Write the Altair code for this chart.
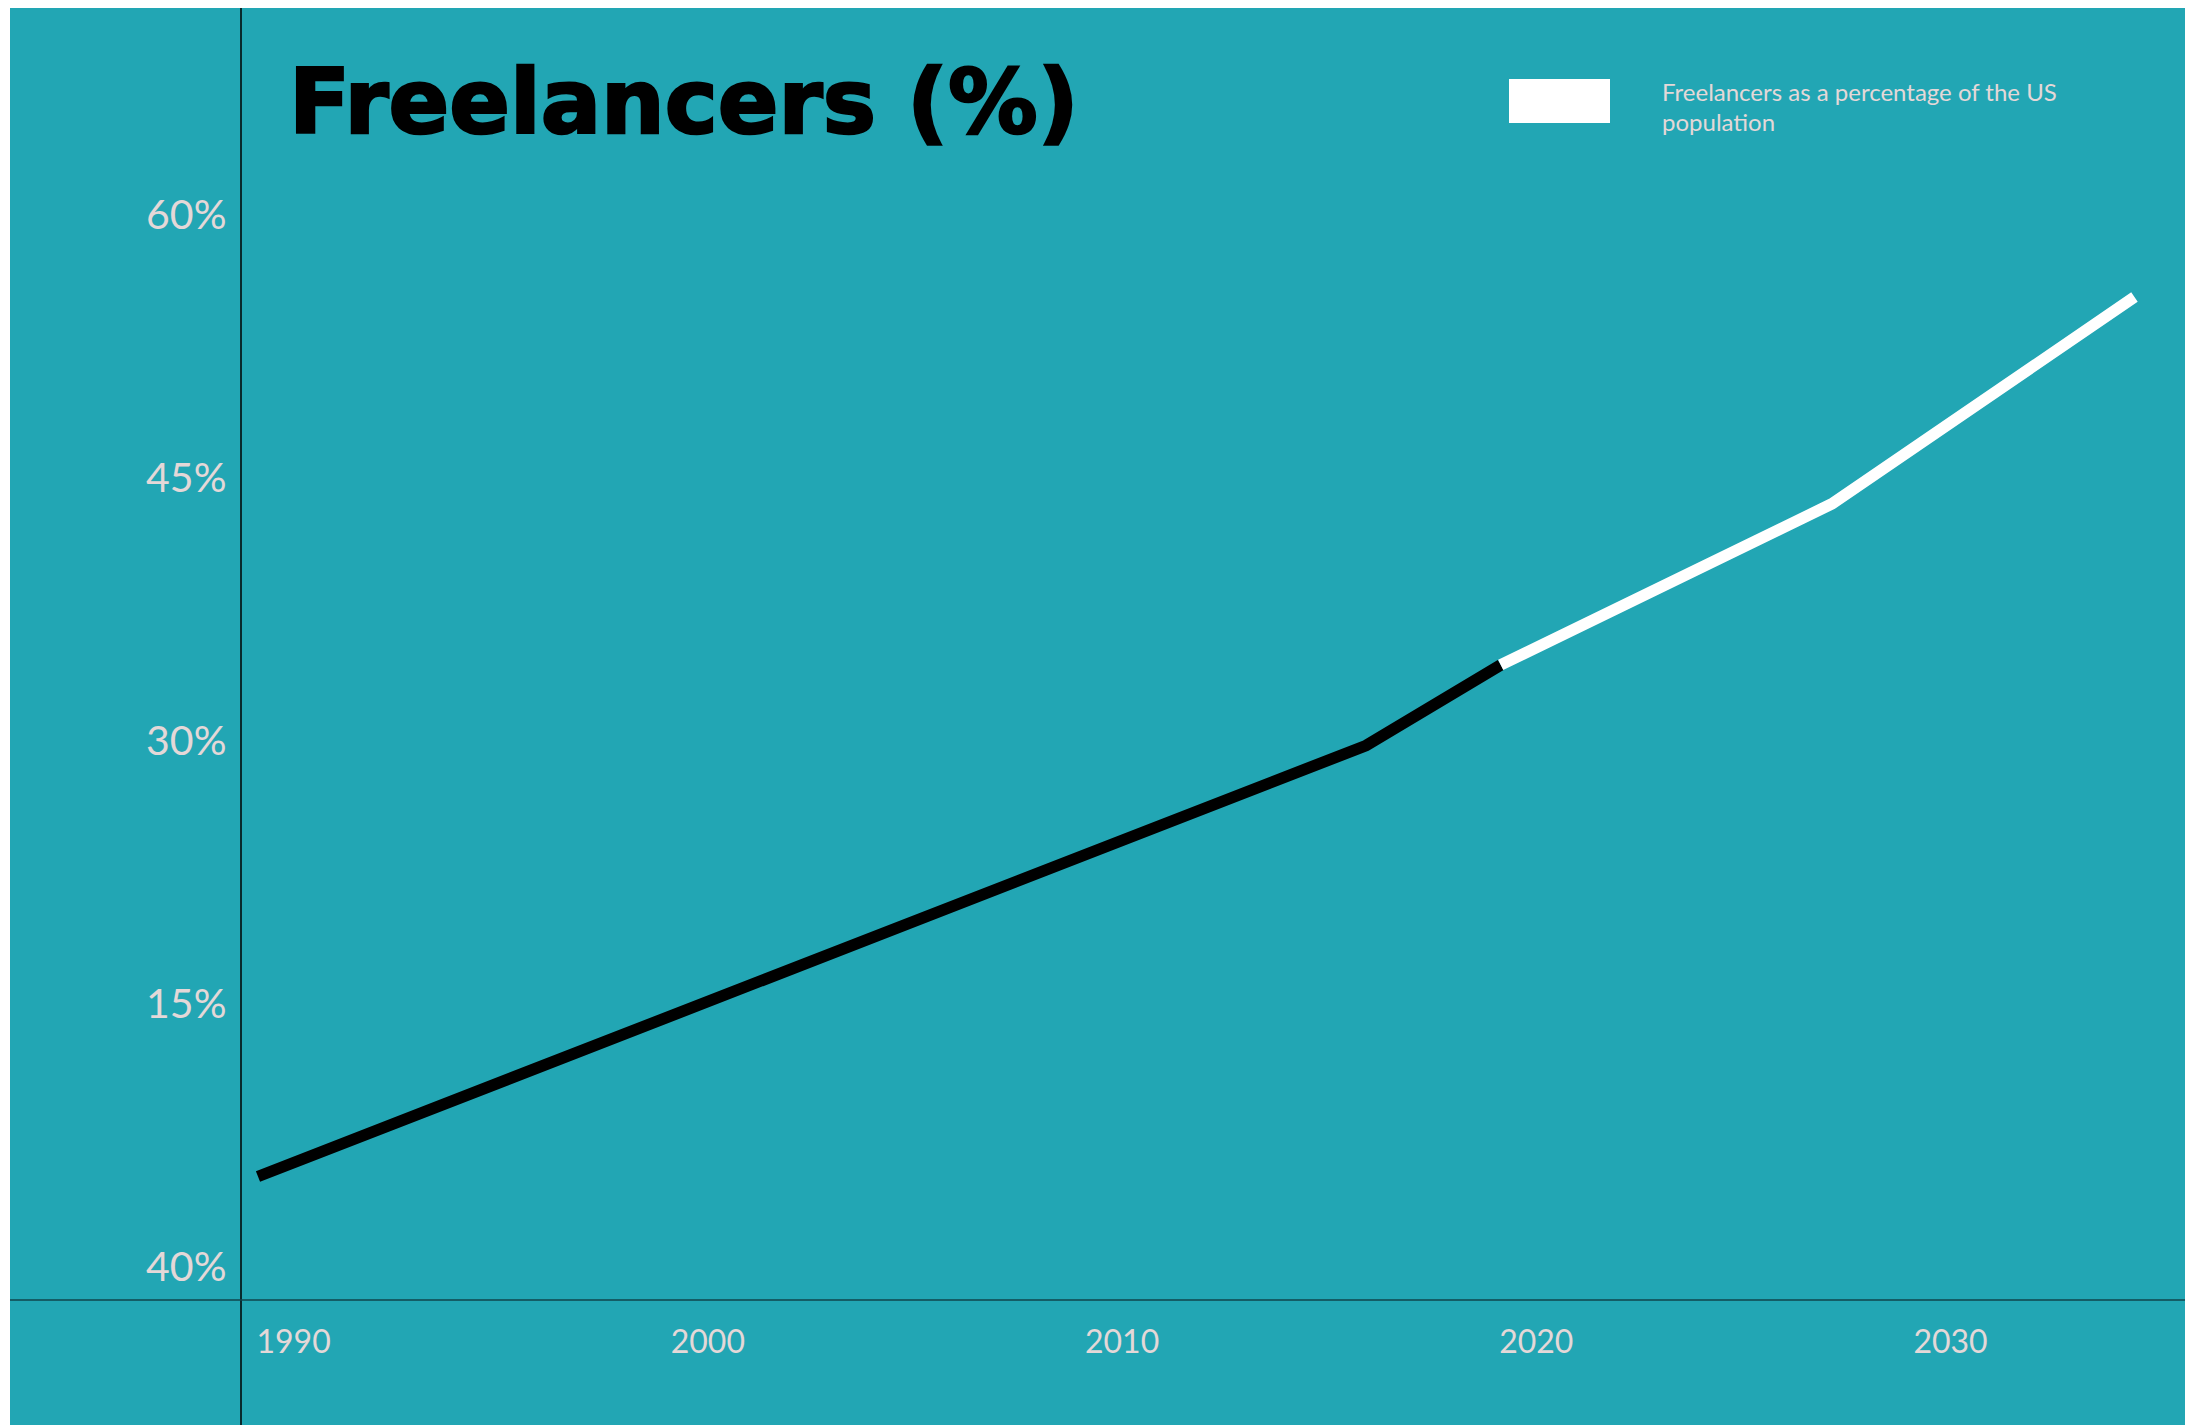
import altair as alt
import pandas as pd

# ---- data ----
hist_years = [1990, 2016.75, 2020]
hist_values = [5.0, 29.6, 34.2]
proj_years = [2020, 2028, 2035.3]
proj_values = [34.2, 43.4, 55.2]
series_names = ["Historical", "Projected"]
series_colors = ["#000000", "#FFFFFF"]

x_tick_values = [1990, 2000, 2010, 2020, 2030]
y_tick_values = [0, 15, 30, 45, 60]
y_tick_labels = ["40%", "15%", "30%", "45%", "60%"]

title_text = "Freelancers (%)"
legend_text = ["Freelancers as a percentage of the US", "population"]

TEAL = "#22A6B4"
LABEL = "#E4D8D8"

W, H = 1944, 1292
PAD_L, PAD_T, PAD_B = 241, 8, 125

df = pd.DataFrame(
    {
        "year": hist_years + proj_years,
        "value": hist_values + proj_values,
        "series": [series_names[0]] * len(hist_years) + [series_names[1]] * len(proj_years),
    }
)

label_expr = " : ".join(
    f"datum.value == {v} ? '{l}'" for v, l in zip(y_tick_values, y_tick_labels)
) + " : ''"

x_scale = alt.Scale(domain=[1989.59, 2036.52], nice=False, zero=False)
y_scale = alt.Scale(domain=[-2.05, 71.7], nice=False, zero=False)

line = (
    alt.Chart(df)
    .mark_line(strokeWidth=11.5, strokeCap="butt", strokeJoin="miter")
    .encode(
        x=alt.X(
            "year:Q",
            scale=x_scale,
            axis=alt.Axis(
                values=x_tick_values,
                format="d",
                title=None,
                grid=False,
                ticks=False,
                tickSize=0,
                domain=False,
                labelAlign="left",
                labelBaseline="alphabetic",
                labelPadding=52,
                labelOffset=-2,
                labelFont="Lato",
                labelFontSize=32,
                labelColor=LABEL,
                labelFlush=False,
                labelOverlap=False,
                zindex=1,
            ),
        ),
        y=alt.Y(
            "value:Q",
            scale=y_scale,
            axis=alt.Axis(
                values=y_tick_values,
                labelExpr=label_expr,
                title=None,
                grid=False,
                ticks=False,
                tickSize=0,
                domain=False,
                labelAlign="right",
                labelBaseline="middle",
                labelPadding=15,
                labelOffset=4,
                labelFont="Lato",
                labelFontSize=41,
                labelColor=LABEL,
                labelFlush=False,
                labelOverlap=False,
                zindex=1,
            ),
        ),
        color=alt.Color(
            "series:N",
            scale=alt.Scale(domain=series_names, range=series_colors),
            legend=None,
        ),
        detail="series:N",
    )
)

# white page margins at the left and top edges
strip_left = alt.Chart().mark_rect(color="white").encode(
    x=alt.value(-PAD_L), x2=alt.value(-PAD_L + 10), y=alt.value(-PAD_T), y2=alt.value(H + PAD_B)
)
strip_top = alt.Chart().mark_rect(color="white").encode(
    x=alt.value(-PAD_L), x2=alt.value(W), y=alt.value(-PAD_T), y2=alt.value(0)
)

# full-span axis lines
v_rule = alt.Chart().mark_rule(color="#000000", strokeWidth=1.5).encode(
    x=alt.value(0), y=alt.value(0), y2=alt.value(H + PAD_B)
)
h_rule = alt.Chart().mark_rule(color="#10454C", strokeWidth=1.5).encode(
    x=alt.value(-PAD_L + 10), x2=alt.value(W), y=alt.value(H)
)

title = alt.Chart().mark_text(
    text=title_text,
    font="DejaVu Sans",
    fontWeight="bold",
    fontSize=89.5,
    color="black",
    stroke="black",
    strokeWidth=2.5,
    align="left",
    baseline="alphabetic",
).encode(x=alt.value(48), y=alt.value(125))

legend_rect = alt.Chart().mark_rect(color="white").encode(
    x=alt.value(1268), x2=alt.value(1369), y=alt.value(71), y2=alt.value(115)
)
legend_label = alt.Chart().mark_text(
    text=legend_text,
    font="Lato",
    fontSize=24,
    lineHeight=30,
    color=LABEL,
    align="left",
    baseline="alphabetic",
).encode(x=alt.value(1421), y=alt.value(93))

chart = (
    alt.layer(strip_left, strip_top, v_rule, h_rule, line, title, legend_rect, legend_label)
    .properties(
        width=W,
        height=H,
        autosize=alt.AutoSizeParams(type="none"),
        padding={"left": PAD_L, "top": PAD_T, "right": 0, "bottom": PAD_B},
        background=TEAL,
    )
    .configure_view(stroke=None)
)

chart.save("out.html", embed_options={"renderer": "svg", "actions": False})
